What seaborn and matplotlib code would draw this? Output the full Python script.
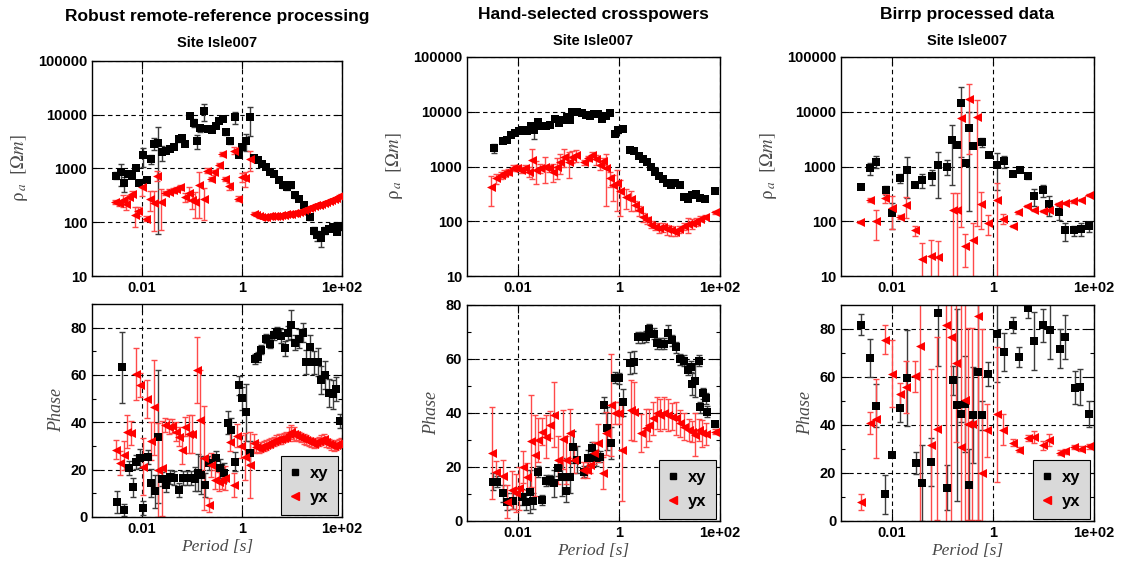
import numpy as np
import pandas as pd
import matplotlib
matplotlib.use("Agg")
import matplotlib.pyplot as plt
import seaborn as sns
from matplotlib.lines import Line2D
from matplotlib.ticker import MultipleLocator, NullLocator

# ---------------- data (log10 period [s], value, error) ----------------
# Panel 1: Robust remote-reference processing
rr_rho_xy_logT = [-2.52,-2.43,-2.37,-2.29,-2.21,-2.13,-2.07,-1.99,-1.91,-1.83,-1.76,-1.69,-1.61,-1.52,-1.44,
                  -1.36,-1.27,-1.21,-1.14,-1.04,-0.97,-0.91,-0.85,-0.76,-0.69,-0.61,-0.53,-0.46,-0.39,-0.32,
                  -0.24,-0.15,-0.07,0.0,0.08,0.15,0.23,0.31,0.39,0.47,0.56,0.64,0.73,0.81,0.89,
                  0.97,1.06,1.14,1.23,1.36,1.43,1.49,1.57,1.66,1.74,1.81,1.89,1.97]
rr_rho_xy = [740,850,530,800,740,1000,540,1750,600,1500,2900,3000,2000,2150,2300,
             2500,3500,3650,2900,9600,7100,3300,5600,11800,5400,5200,6300,7800,8500,4700,
             3200,9100,1800,2500,3300,8900,1600,1450,1230,1050,850,780,600,490,450,
             490,315,275,205,125,70,57,50,70,76,81,66,81]
rr_rho_xy_relerr = [0.15,0.45,0.3,0.1,0.05,0.05,0.05,0.4,0.05,0.2,0.25,0.98,0.3,0.05,0.05,
                    0.05,0.1,0.05,0.05,0.1,0.15,0.3,0.15,0.35,0.05,0.05,0.05,0.05,0.05,0.1,
                    0.1,0.25,0.1,0.1,0.35,0.55,0.05,0.05,0.05,0.05,0.05,0.05,0.05,0.1,0.1,
                    0.1,0.1,0.1,0.1,0.1,0.15,0.2,0.3,0.15,0.1,0.1,0.1,0.1]

rr_rho_yx_logT = [-2.55,-2.47,-2.39,-2.33,-2.27,-2.21,-2.14,-2.09,-2.01,-1.93,-1.85,-1.77,-1.71,-1.63,-1.55,
                  -1.47,-1.39,-1.32,-1.24,-1.15,-1.07,-1.01,-0.94,-0.86,-0.77,-0.71,-0.63,-0.56,-0.47,-0.41,
                  -0.34,-0.26,-0.17,-0.09,0.0,0.06,0.15,
                  0.23,0.28,0.33,0.38,0.43,0.48,0.53,0.58,0.63,0.68,0.73,0.78,0.83,0.88,0.93,0.98,1.03,1.08,
                  1.13,1.18,1.23,1.28,1.33,1.38,1.43,1.48,1.53,1.58,1.63,1.68,1.73,1.78,1.83,1.88,1.93,1.97]
rr_rho_yx = [240,225,260,215,295,340,135,160,445,117,275,225,740,240,350,
             370,390,420,450,295,350,255,240,490,270,910,645,850,1150,1860,
             645,470,2150,275,690,660,1510,
             145,135,128,125,125,126,128,128,130,130,133,135,137,140,142,145,148,150,
             155,160,168,175,185,195,200,205,212,220,228,235,245,255,270,285,305,325]
rr_rho_yx_relerr = [0.1,0.1,0.25,0.2,0.1,0.1,0.4,0.2,0.3,0.1,0.4,0.7,0.2,0.7,0.1,
                    0.1,0.1,0.1,0.1,0.2,0.3,0.3,0.5,0.75,0.6,0.1,0.1,0.1,0.1,0.1,
                    0.1,0.15,0.15,0.1,0.2,0.3,0.4,
                    0.06,0.05,0.05,0.05,0.05,0.05,0.05,0.05,0.05,0.05,0.05,0.05,0.05,0.05,0.05,0.05,0.05,0.05,
                    0.05,0.05,0.05,0.05,0.05,0.05,0.05,0.05,0.05,0.05,0.05,0.05,0.05,0.05,0.05,0.05,0.05,0.05]

rr_ph_xy_logT = [-2.51,-2.41,-2.36,-2.27,-2.19,-2.12,-2.05,-1.99,-1.89,-1.83,-1.75,-1.69,-1.61,-1.52,-1.44,
                 -1.36,-1.27,-1.19,-1.11,-1.03,-0.95,-0.89,-0.82,-0.75,-0.67,-0.53,-0.44,-0.37,-0.29,-0.23,
                 -0.15,-0.07,0.0,0.08,0.16,0.26,0.31,0.37,0.47,0.55,0.63,0.69,0.78,0.86,0.91,
                 0.97,1.06,1.13,1.21,1.28,1.36,1.44,1.51,1.57,1.66,1.74,1.81,1.88,1.96]
rr_ph_xy = [6.3,63.2,2.8,20.6,12.6,23.4,24.8,3.8,25.5,14.3,10.8,34.0,16.0,13.6,16.8,
            16.4,11.5,16.4,16.4,16.4,16.1,18.8,17.8,13.6,22.7,24.8,20.6,18.8,39.9,36.8,
            23.4,55.7,50.1,44.2,27.2,66.7,67.6,70.7,75.4,73.3,76.8,78.2,76.5,71.2,77.9,
            81.3,73.7,75.4,77.8,65.5,71.9,65.3,65.5,57.8,59.9,52.5,51.8,54.0,40.6]
rr_ph_xy_err = [4.5,15,2.5,3,4,3,4,3,3,6,7,28,3,3,3,
                3,3,3,3,3,5,8,8,5,3,3,4,4,5,5,
                4,4,5,12,5,2,2,2,2,2,2,2,3,3,3,
                6,3,4,4,5,5,5,6,6,6,6,6,5,3]

rr_ph_yx_logT = [-2.52,-2.45,-2.37,-2.31,-2.22,-2.12,-2.05,-1.99,-1.91,-1.83,-1.76,-1.69,-1.61,-1.54,-1.47,
                 -1.41,-1.33,-1.26,-1.21,-1.14,-1.07,-1.01,-0.91,-0.84,-0.76,-0.67,-0.63,-0.54,-0.47,-0.41,
                 -0.34,-0.24,-0.17,-0.11,-0.03,0.06,0.15,0.23,
                 0.28,0.33,0.38,0.43,0.48,0.53,0.58,0.63,0.68,0.73,0.78,0.83,0.88,0.93,0.98,1.03,1.08,1.13,
                 1.18,1.23,1.28,1.33,1.38,1.43,1.48,1.53,1.58,1.63,1.68,1.73,1.78,1.83,1.88,1.93,1.97]
rr_ph_yx = [28.4,22.7,26.0,36.1,35.4,60.6,55.7,21.3,49.8,32.1,46.3,19.9,20.6,38.9,38.2,
            38.5,36.1,34.0,28.4,38.2,35.1,35.1,62.0,41.0,24.8,5.2,22.0,15.7,15.0,15.7,
            16.4,31.9,13.6,34.4,29.8,25.5,22.0,31.2,
            29.5,29.0,29.5,30.0,30.5,31.0,31.5,32.0,32.5,33.0,33.0,33.5,34.0,35.0,36.0,35.0,34.5,34.0,
            33.5,33.0,32.5,32.0,31.5,31.0,31.5,32.0,32.5,33.0,31.5,31.0,30.5,30.0,30.5,31.0,31.5]
rr_ph_yx_err = [4,5,6,7,5,11,5,12,8,8,20,20,20,3,3,
                3,4,4,6,4,8,8,14,21,22,3,5,4,4,4,
                5,4,5,5,5,10,14,4,
                2,2,2,2,2,2,2,2,2,2,2,2,2,3,3,3,2,2,
                2,2,2,2,2,2,2,2,2,2,2,2,2,2,2,2,2]

# Panel 2: Hand-selected crosspowers
hs_rho_xy_logT = [-2.47,-2.29,-2.21,-2.13,-2.05,-1.97,-1.89,-1.81,-1.74,-1.68,-1.59,-1.51,-1.43,-1.35,-1.27,
                  -1.19,-1.11,-1.03,-0.97,-0.92,-0.83,-0.73,-0.64,-0.57,-0.49,-0.41,-0.33,-0.26,-0.17,-0.08,
                  -0.02,0.08,0.22,0.31,0.39,0.47,0.55,0.63,0.71,0.79,0.87,0.95,1.04,1.12,1.20,
                  1.28,1.36,1.44,1.53,1.60,1.70,1.90]
hs_rho_xy = [2180,2880,3030,3820,4100,4400,4700,4400,5500,4600,6600,5600,5500,5800,7400,
             6300,7000,8100,7200,9900,10000,9500,8900,8300,9200,9200,7500,8300,9600,3950,
             4550,4870,2030,1900,1580,1360,1200,1000,810,680,590,510,460,510,460,
             280,260,300,310,270,250,350]
hs_rho_xy_relerr = [0.2,0.08,0.05,0.05,0.05,0.05,0.05,0.05,0.1,0.3,0.05,0.05,0.05,0.05,0.05,
                    0.05,0.05,0.05,0.1,0.05,0.05,0.05,0.05,0.05,0.05,0.05,0.05,0.05,0.05,0.1,
                    0.1,0.05,0.05,0.05,0.05,0.05,0.05,0.05,0.05,0.05,0.05,0.05,0.05,0.05,0.05,
                    0.05,0.05,0.05,0.05,0.05,0.05,0.05]

hs_rho_yx_logT = [-2.52,-2.42,-2.32,-2.26,-2.18,-2.10,-2.02,-1.94,-1.86,-1.77,-1.71,-1.64,-1.55,-1.46,-1.38,
                  -1.30,-1.22,-1.16,-1.08,-0.99,-0.93,-0.84,-0.69,-0.60,-0.53,-0.45,-0.38,-0.31,-0.25,-0.17,
                  -0.12,-0.04,0.03,0.14,0.24,0.32,0.39,0.47,0.55,0.63,0.71,0.79,0.87,0.95,1.04,
                  1.12,1.19,1.28,1.36,1.44,1.53,1.60,1.70,1.90]
hs_rho_yx = [430,610,700,760,810,940,940,870,940,810,1320,870,940,1000,940,
             810,1000,1230,1520,1230,1520,1630,1200,1420,1630,1350,1070,1260,940,610,
             460,510,350,280,260,196,158,120,105,87,80,76,79,71,68,
             63,71,81,88,91,98,112,120,145]
hs_rho_yx_relerr = [0.55,0.2,0.15,0.15,0.12,0.12,0.12,0.12,0.15,0.2,0.55,0.45,0.2,0.5,0.15,
                    0.35,0.4,0.4,0.35,0.5,0.25,0.25,0.1,0.1,0.15,0.2,0.2,0.15,0.8,0.3,
                    0.5,0.7,0.65,0.4,0.4,0.2,0.2,0.2,0.15,0.15,0.15,0.2,0.2,0.2,0.2,
                    0.15,0.15,0.15,0.3,0.2,0.15,0.1,0.1,0.05]

hs_ph_xy_logT = [-2.49,-2.41,-2.28,-2.20,-2.10,-1.92,-1.84,-1.76,-1.69,-1.59,-1.51,-1.43,-1.35,-1.28,-1.21,
                 -1.13,-1.04,-0.97,-0.90,-0.83,-0.68,-0.61,-0.53,-0.45,-0.37,-0.30,-0.24,-0.15,-0.07,0.01,
                 0.08,0.23,0.31,0.37,0.45,0.54,0.60,0.69,0.75,0.83,0.90,0.98,1.06,1.14,1.21,
                 1.29,1.36,1.42,1.44,1.51,1.59,1.60,1.67,1.72,1.75,1.91]
hs_ph_xy = [14.6,14.6,10.2,7.2,7.5,9.0,7.2,10.9,7.5,18.3,7.8,14.9,15.2,14.0,19.5,
            16.4,11.2,16.4,27.5,22.6,18.3,23.2,27.2,23.2,23.8,43.0,34.3,28.8,53.1,52.8,
            44.0,58.6,59.0,68.0,68.0,68.3,71.0,69.3,65.8,65.6,65.6,69.5,67.0,64.3,59.9,
            59.3,55.9,57.2,50.7,52.0,59.4,42.1,47.3,45.4,40.5,35.9]
hs_ph_xy_err = [3,2,3,3,3,3,3,8,3,2,2,2,2,5,3,
                7,4,6,6,5,2,3,2,3,2,3,8,6,2,2,
                5,4,4,2,2,2,2,2,2,2,2,3,2,2,2,
                2,2,2,4,6,2,2,2,2,2,1]

hs_ph_yx_logT = [-2.51,-2.43,-2.28,-2.20,-2.12,-2.04,-1.97,-1.90,-1.82,-1.74,-1.66,-1.59,-1.51,-1.43,-1.36,
                 -1.29,-1.20,-1.11,-1.04,-0.97,-0.89,-0.71,-0.63,-0.56,-0.50,-0.41,-0.31,-0.25,-0.15,-0.07,
                 0.0,0.07,0.24,0.31,0.44,0.54,0.60,0.67,0.75,0.82,0.90,0.98,1.06,1.13,1.21,
                 1.29,1.38,1.44,1.51,1.59,1.65,1.73,1.91]
hs_ph_yx = [25.1,18.3,16.7,7.2,11.5,10.5,12.1,19.9,16.4,29.6,24.4,30.0,33.1,31.2,35.6,
            39.3,22.6,30.2,22.6,32.5,22.6,18.9,18.9,20.7,25.1,28.8,17.7,32.5,43.0,40.1,
            40.1,26.3,41.1,40.5,32.5,34.3,35.6,38.0,39.9,39.3,39.9,39.3,38.6,38.0,36.2,
            34.9,33.7,33.1,31.9,33.7,32.5,32.2,33.1]
hs_ph_yx_err = [17,4,6,6,7,7,8,6,5,17,15,8,5,8,5,
                12,9,11,9,9,5,3,3,3,4,7,6,8,19,4,
                4,19,11,11,7,7,6,6,6,6,6,6,5,6,5,
                5,4,4,8,4,5,4,1]

# Panel 3: Birrp processed data
bp_rho_xy_logT = [-2.61,-2.43,-2.30,-2.12,-1.99,-1.83,-1.70,-1.53,-1.39,-1.20,-1.09,-0.91,-0.81,-0.70,-0.63,
                  -0.53,-0.48,-0.39,-0.22,-0.08,0.09,0.22,0.40,0.53,0.70,0.82,1.0,1.12,1.30,1.43,
                  1.61,1.74,1.91]
bp_rho_xy = [415,930,1230,370,142,620,870,460,570,660,1050,1000,3100,2440,14700,
             1150,5100,2330,2800,1640,1050,1260,740,850,660,290,370,210,148,68,
             68,73,81]
bp_rho_xy_relerr = [0.05,0.25,0.25,0.2,0.5,0.2,0.7,0.08,0.3,0.3,0.75,0.3,0.85,0.05,0.9,
                    0.05,0.97,0.05,0.2,0.05,0.65,0.25,0.05,0.05,0.1,0.35,0.25,0.4,0.3,0.35,
                    0.2,0.25,0.2]

bp_rho_yx_logT = [-2.63,-2.43,-2.30,-2.13,-2.0,-1.83,-1.71,-1.53,-1.40,-1.22,-1.09,-0.78,-0.71,-0.63,-0.55,
                  -0.48,-0.39,-0.32,-0.24,-0.09,0.08,0.21,0.39,0.49,0.67,0.82,1.0,1.12,1.28,1.43,
                  1.58,1.74,1.91]
bp_rho_yx = [98,245,102,265,177,120,195,68,20.6,23.6,22,163,163,7800,36,
             16800,46,8100,204,94,245,112,81,145,190,160,155,160,205,213,
             230,245,300]
bp_rho_yx_relerr = [0.05,0.1,0.55,0.2,0.6,0.1,0.4,0.2,0.95,0.9,0.95,1.0,1.0,0.99,0.6,
                    0.9,1.0,0.99,0.65,0.4,1.0,0.2,0.05,0.05,0.05,0.05,0.05,0.05,0.05,0.05,
                    0.05,0.05,0.05]

bp_ph_xy_logT = [-2.61,-2.43,-2.30,-2.13,-1.99,-1.83,-1.70,-1.52,-1.40,-1.22,-1.09,-0.91,-0.79,-0.71,-0.62,
                 -0.54,-0.48,-0.40,-0.30,-0.21,-0.09,0.09,0.22,0.40,0.52,0.70,0.82,1.0,1.13,1.32,
                 1.43,1.62,1.73,1.91]
bp_ph_xy = [81.8,67.8,48.1,11.1,27.6,47.1,59.6,24.2,15.8,24.7,86.7,13.9,58.6,48.2,44.4,
            48.9,14.9,44.0,62.1,44.0,61.4,78.0,70.4,81.5,68.3,88.9,74.9,81.5,79.7,71.8,
            76.7,55.6,55.8,44.7]
bp_ph_xy_err = [4.5,8,9,8,1,6,20,4.5,16,10,22,9.5,6,40,3,
                20,15,20,62,6,5,20,8,3.3,4,4.5,12,7,12,8,
                9,7,7.5,5.5]

bp_ph_yx_logT = [-2.60,-2.43,-2.31,-2.13,-2.0,-1.83,-1.72,-1.54,-1.43,-1.23,-1.10,-0.92,-0.82,-0.72,-0.62,
                 -0.54,-0.49,-0.42,-0.30,-0.22,-0.11,0.09,0.21,0.40,0.52,0.70,0.82,1.0,1.12,1.32,
                 1.43,1.60,1.74,1.91]
bp_ph_yx = [7.9,40.8,42.6,75.6,61.4,52.8,55.8,60.3,72.8,31.5,38.5,81.8,76.7,65.8,30.8,
            50.6,40.6,40.6,85.3,20.0,37.8,44.4,38.1,32.6,29.7,34.7,35.0,31.5,33.6,28.5,
            29.0,30.8,30.1,31.1]
bp_ph_yx_err = [3.2,4.5,16.5,6,14,4.5,11,6.5,75,32,38,88,88,33,60,
                60,40,40,85,60,11,28,6.5,1.5,1,1.3,2.3,2,2.5,1,
                1,1,1,1.1]

titles = ["Robust remote-reference processing", "Hand-selected crosspowers", "Birrp processed data"]
site_label = "Site Isle007"
legend_labels = ["xy", "yx"]
x_ticks = [0.01, 1, 100]
x_ticklabels = ["0.01", "1", "1e+02"]
rho_ticks = [10, 100, 1000, 10000, 100000]
rho_ticklabels = ["10", "100", "1000", "10000", "100000"]
phase_max = [90, 80, 90]

# ---------------- style ----------------
sns.set_theme(style="ticks")
plt.rcParams["font.family"] = ["Liberation Sans", "DejaVu Sans"]
plt.rcParams["mathtext.fontset"] = "stix"
plt.rcParams["text.color"] = "black"
plt.rcParams["axes.labelcolor"] = "black"
plt.rcParams["xtick.color"] = "black"
plt.rcParams["ytick.color"] = "black"

W, H = 1130, 562
fig = plt.figure(figsize=(W / 100, H / 100), dpi=100)

BLACK, RED = "#000000", "#ff0000"
EBLACK, ERED = "#3c3c3c", "#ff4a4a"
GRAYTXT = "#4a4a4a"


def pos(l, t, r, b):
    return [l / W, 1 - b / H, (r - l) / W, (b - t) / H]


def add_series(ax, logT, vals, err, color, ecolor, marker, size, rel):
    T = 10 ** np.asarray(logT, float)
    v = np.asarray(vals, float)
    e = np.asarray(err, float)
    if rel:
        e = e * v
        lo = np.minimum(e, v * 0.999)
    else:
        lo = e
    ax.errorbar(T, v, yerr=[lo, e], fmt="none", ecolor=ecolor, elinewidth=1.0,
                capsize=2.5, capthick=1.0, zorder=2)
    df = pd.DataFrame({"T": T, "v": v})
    sns.scatterplot(data=df, x="T", y="v", marker=marker, color=color, s=size,
                    linewidth=0, ax=ax, zorder=3, legend=False)


def style(ax):
    ax.set_xscale("log")
    ax.set_xlim(1e-3, 1e2)
    ax.set_xticks(x_ticks)
    ax.set_xticklabels(x_ticklabels)
    ax.xaxis.set_minor_locator(NullLocator())
    ax.tick_params(which="both", direction="in", top=True, right=True, width=0.8,
                   labelsize=10.5, colors="black")
    ax.tick_params(which="major", length=6)
    ax.tick_params(which="minor", length=3)
    ax.grid(True, which="major", color="black", ls=(0, (4, 3)), lw=0.8)
    ax.set_axisbelow(True)
    for s in ax.spines.values():
        s.set_linewidth(1.0)
        s.set_color("black")
    for lab in ax.get_xticklabels() + ax.get_yticklabels():
        lab.set_fontweight("bold")


layout = [
    # (top axes l,t,r,b), (bottom axes l,t,r,b), title y, subtitle y
    ((92, 61, 342, 276), (92, 304, 342, 517), 17, 43),
    ((467, 57, 720, 276), (467, 305, 720, 521), 14, 41),
    ((841, 57, 1094, 276), (841, 305, 1094, 521), 14, 41),
]

data = [
    (rr_rho_xy_logT, rr_rho_xy, rr_rho_xy_relerr, rr_rho_yx_logT, rr_rho_yx, rr_rho_yx_relerr,
     rr_ph_xy_logT, rr_ph_xy, rr_ph_xy_err, rr_ph_yx_logT, rr_ph_yx, rr_ph_yx_err),
    (hs_rho_xy_logT, hs_rho_xy, hs_rho_xy_relerr, hs_rho_yx_logT, hs_rho_yx, hs_rho_yx_relerr,
     hs_ph_xy_logT, hs_ph_xy, hs_ph_xy_err, hs_ph_yx_logT, hs_ph_yx, hs_ph_yx_err),
    (bp_rho_xy_logT, bp_rho_xy, bp_rho_xy_relerr, bp_rho_yx_logT, bp_rho_yx, bp_rho_yx_relerr,
     bp_ph_xy_logT, bp_ph_xy, bp_ph_xy_err, bp_ph_yx_logT, bp_ph_yx, bp_ph_yx_err),
]

for i in range(3):
    (tp, bt, ty, sy) = layout[i]
    d = data[i]
    # --- apparent resistivity ---
    ax = fig.add_axes(pos(*tp))
    ax.set_xscale("log")
    ax.set_yscale("log")
    add_series(ax, d[0], d[1], d[2], BLACK, EBLACK, "s", 36, True)
    add_series(ax, d[3], d[4], d[5], RED, ERED, "<", 42, True)
    ax.set_ylim(10, 1e5)
    ax.set_yticks(rho_ticks)
    ax.set_yticklabels(rho_ticklabels)
    ax.yaxis.set_minor_locator(NullLocator())
    style(ax)
    ax.set_xlabel("")
    ax.set_ylabel(r"$\mathrm{\rho}_{\,a}\ \ [\Omega m]$", color=GRAYTXT, fontsize=13.5, labelpad=6)

    cx = (tp[0] + tp[2]) / 2 / W
    fig.text(cx, 1 - ty / H, titles[i], ha="center", va="center", fontsize=12.5,
             fontweight="bold", color="black")
    fig.text(cx, 1 - sy / H, site_label, ha="center", va="center", fontsize=10.5,
             fontweight="bold", color="black")

    # --- phase ---
    ax2 = fig.add_axes(pos(*bt))
    ax2.set_xscale("log")
    add_series(ax2, d[6], d[7], d[8], BLACK, EBLACK, "s", 36, False)
    add_series(ax2, d[9], d[10], d[11], RED, ERED, "<", 42, False)
    ax2.set_ylim(0, phase_max[i])
    ax2.set_yticks([0, 20, 40, 60, 80])
    ax2.yaxis.set_minor_locator(MultipleLocator(10))
    style(ax2)
    ax2.set_ylabel("Phase", family="Liberation Serif", style="italic", color=GRAYTXT, fontsize=13)
    ax2.set_xlabel("Period [s]", family="Liberation Serif", style="italic", color=GRAYTXT,
                   fontsize=12.5, labelpad=2)
    handles = [Line2D([], [], marker="s", color=BLACK, ls="none", markersize=5),
               Line2D([], [], marker="<", color=RED, ls="none", markersize=5.5)]
    leg = ax2.legend(handles, legend_labels, loc="lower right", bbox_to_anchor=(0.984, 0.01),
                     borderaxespad=0, frameon=True, fancybox=False, facecolor="#d9d9d9",
                     edgecolor="black", framealpha=1, prop={"weight": "bold", "size": 12},
                     handlelength=0.5, handletextpad=0.6, borderpad=0.6, labelspacing=0.55)
    leg.get_frame().set_linewidth(0.8)

fig.savefig("out.png", dpi=100)
